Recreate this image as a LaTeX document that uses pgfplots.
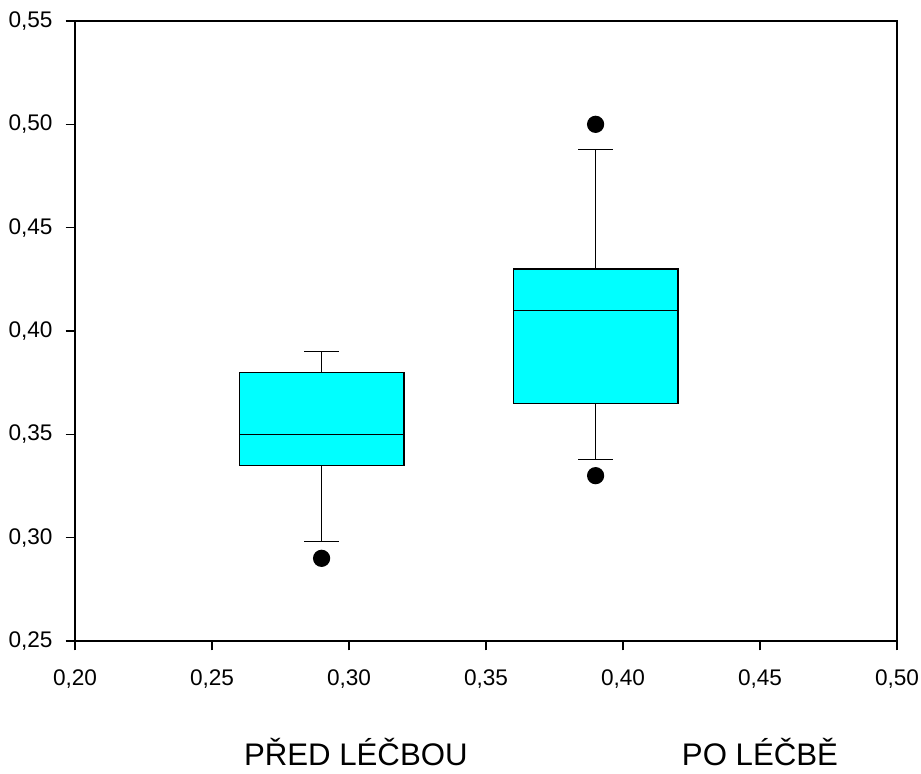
\documentclass[border=0pt]{standalone}
\usepackage{fontspec}
\setmainfont{Liberation Sans}
\usepackage{pgfplots}
\usepgfplotslibrary{statistics}
\pgfplotsset{compat=1.18}
\definecolor{boxcyan}{RGB}{0,255,255}

\begin{document}
\begin{tikzpicture}
\begin{axis}[
  name=ax,
  scale only axis,
  width=411pt, height=310pt,
  xmin=0.20, xmax=0.50, ymin=0.25, ymax=0.55,
  xtick={0.20,0.25,0.30,0.35,0.40,0.45,0.50},
  ytick={0.25,0.30,0.35,0.40,0.45,0.50,0.55},
  xtick pos=left, ytick pos=left,
  tick align=outside,
  major tick length=4.7pt,
  tick style={black, line width=0.8pt},
  line width=1pt,
  clip=false,
  tick label style={font=\fontsize{11.3}{13}\selectfont},
  xticklabel style={yshift=-6pt},
  yticklabel style={xshift=-2.7pt},
  /pgf/number format/.cd, fixed, fixed zerofill, precision=2, use comma, assume math mode=true,
  /pgfplots/.cd,
  boxplot/draw direction=y,
  boxplot/box extend=0.06,
  boxplot/whisker extend=0.0125,
]
% PRED LECBOU
\addplot[fill=boxcyan, draw=black, line width=0.75pt,
  boxplot prepared={draw position=0.29,
    lower whisker=0.298, lower quartile=0.335, median=0.35,
    upper quartile=0.38, upper whisker=0.39},
  boxplot/every whisker/.style={line width=0.6pt},
  boxplot/every median/.style={line width=0.6pt},
] coordinates {};
% PO LECBE
\addplot[fill=boxcyan, draw=black, line width=0.75pt,
  boxplot prepared={draw position=0.39,
    lower whisker=0.338, lower quartile=0.365, median=0.41,
    upper quartile=0.43, upper whisker=0.488},
  boxplot/every whisker/.style={line width=0.6pt},
  boxplot/every median/.style={line width=0.6pt},
] coordinates {};
% outliers
\addplot[only marks, mark=*, mark size=3.8pt, black]
  coordinates {(0.29,0.29) (0.39,0.50) (0.39,0.33)};

\node[font=\fontsize{15.6}{18}\selectfont, anchor=base]
  at ([yshift=-62.5pt]axis cs:0.3025,0.25) {PŘED LÉČBOU};
\node[font=\fontsize{15.6}{18}\selectfont, anchor=base]
  at ([yshift=-62.5pt]axis cs:0.45,0.25) {PO LÉČBĚ};
\end{axis}
\pgfresetboundingbox
\path ([shift={(-37.5pt,-66.5pt)}]ax.south west) rectangle ([shift={(12pt,10.5pt)}]ax.north east);
\end{tikzpicture}
\end{document}
